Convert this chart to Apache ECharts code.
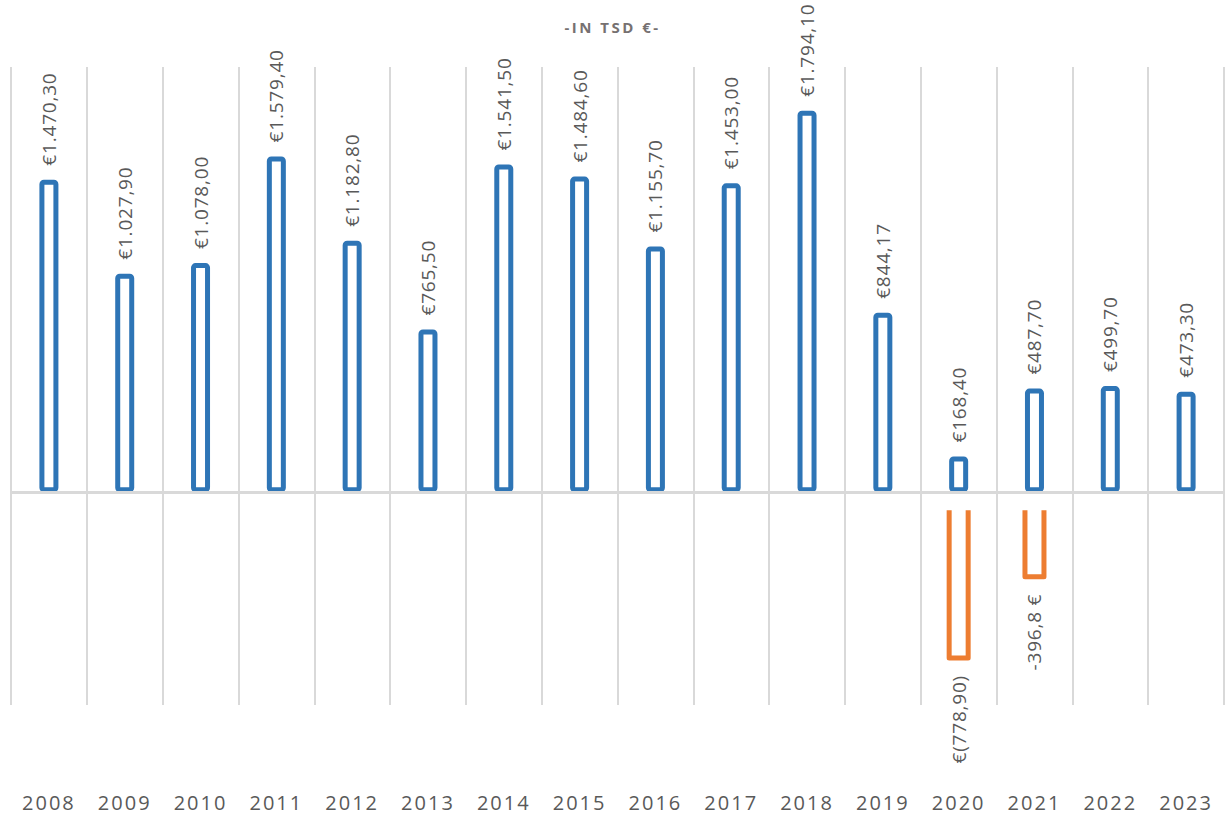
<!DOCTYPE html>
<html>
<head>
<meta charset="utf-8">
<script src="https://cdn.jsdelivr.net/npm/echarts@6/dist/echarts.min.js"></script>
<style>
html,body{margin:0;padding:0;background:#fff;}
#chart{width:1225px;height:814px;}
#chart text[style*="20px"]{letter-spacing:2px;}
#chart text[style*="19px"]{letter-spacing:0.8px;}
#chart text[style*="bold"]{letter-spacing:2.5px;}
</style>
</head>
<body>
<div id="chart"></div>
<script>
const years = ['2008','2009','2010','2011','2012','2013','2014','2015','2016','2017','2018','2019','2020','2021','2022','2023'];
const positiveValues = [1470.3, 1027.9, 1078.0, 1579.4, 1182.8, 765.5, 1541.5, 1484.6, 1155.7, 1453.0, 1794.1, 844.17, 168.4, 487.7, 499.7, 473.3];
const positiveLabels = ['€1.470,30','€1.027,90','€1.078,00','€1.579,40','€1.182,80','€765,50','€1.541,50','€1.484,60','€1.155,70','€1.453,00','€1.794,10','€844,17','€168,40','€487,70','€499,70','€473,30'];
const negativeValues = [null, null, null, null, null, null, null, null, null, null, null, null, -778.9, -396.8, null, null];
const negativeLabels = ['', '', '', '', '', '', '', '', '', '', '', '', '€(778,90)', '-396,8 €', '', ''];
const titleText = '-IN TSD €-';

const BLUE = '#2E75B6', ORANGE = '#ED7D31', GRID = '#D9D9D9', TXT = '#595959';
const FONT = '"Open Sans", "Liberation Sans", sans-serif';

const chart = echarts.init(document.getElementById('chart'), null, {renderer: 'svg'});
chart.setOption({
  animation: false,
  backgroundColor: '#fff',
  title: {
    text: titleText, left: 'center', top: 14,
    textStyle: {color: '#767171', fontSize: 15, fontWeight: 'bold', fontFamily: FONT}
  },
  grid: {left: 11, right: 1, top: 67, bottom: 109},
  xAxis: {
    type: 'category', data: years,
    axisLine: {show: false, onZero: false}, axisTick: {show: false},
    splitLine: {show: true, lineStyle: {color: GRID, width: 2}},
    axisLabel: {color: TXT, fontSize: 20, fontFamily: FONT, margin: 87}
  },
  yAxis: {
    type: 'value', min: -1000, max: 2000,
    show: false, splitLine: {show: false}
  },
  series: [
    {
      type: 'custom', z: 1, silent: true,
      data: [[0, 0]],
      renderItem: function () { return null; },
      markLine: {
        silent: true, symbol: 'none', label: {show: false},
        lineStyle: {color: GRID, width: 3, type: 'solid'},
        data: [{yAxis: 0}]
      }
    },
    {
      type: 'bar', data: positiveValues, barWidth: 19, z: 3,
      itemStyle: {color: '#fff', borderColor: BLUE, borderWidth: 5, borderRadius: 2},
      label: {
        show: true, position: 'top', distance: 14, rotate: 90,
        align: 'left', verticalAlign: 'middle',
        color: TXT, fontSize: 19, fontFamily: FONT,
        formatter: p => positiveLabels[p.dataIndex]
      }
    },
    {
      type: 'custom', z: 3,
      data: negativeValues.map((v, i) => [i, v]),
      renderItem: function (params, api) {
        const v = api.value(1);
        if (v === null || isNaN(v)) return null;
        const i = api.value(0);
        const top = api.coord([i, 0]);
        const bot = api.coord([i, v]);
        const half = 9.5;
        const yStart = top[1] + 18;
        return {
          type: 'group',
          children: [
            {
              type: 'polyline',
              shape: {points: [[bot[0] - half, yStart], [bot[0] - half, bot[1]], [bot[0] + half, bot[1]], [bot[0] + half, yStart]]},
              style: {stroke: ORANGE, lineWidth: 5, fill: null, lineJoin: 'round'}
            },
            {
              type: 'text',
              x: bot[0], y: bot[1] + 17, rotation: Math.PI / 2,
              style: {
                text: negativeLabels[params.dataIndex], fill: TXT, fontSize: 19, fontFamily: FONT,
                align: 'right', verticalAlign: 'middle'
              }
            }
          ]
        };
      }
    }
  ]
});
</script>
</body>
</html>
